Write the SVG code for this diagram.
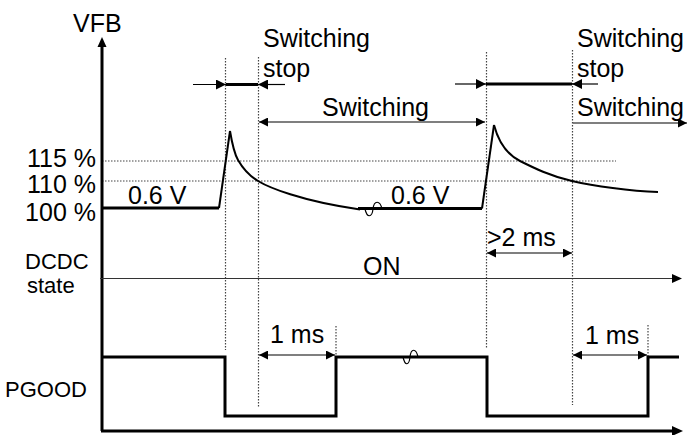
<svg xmlns="http://www.w3.org/2000/svg" width="688" height="435" viewBox="0 0 688 435">
<style>
  text { font-family: "Liberation Sans", Arial, sans-serif; font-size: 25px; fill: #000; }
  .sm { font-size: 22px; }
  .dot { stroke: #444; stroke-width: 1.2; stroke-dasharray: 1.5 1.5; fill: none; }
  .axis { stroke: #000; stroke-width: 3; fill: none; }
  .sig { stroke: #000; stroke-width: 3; fill: none; stroke-linejoin: miter; }
  .curve { stroke: #000; stroke-width: 2; fill: none; }
  .thin { stroke: #000; stroke-width: 1.2; fill: none; }
  .gray { stroke: #333; stroke-width: 1; fill: none; }
  .thick { stroke: #000; stroke-width: 3; fill: none; }
</style>
<defs>
  <marker id="arr" viewBox="0 0 10 10" refX="10" refY="5" markerWidth="11" markerHeight="9" orient="auto-start-reverse" markerUnits="userSpaceOnUse">
    <path d="M0,0 L10,5 L0,10 Z" fill="#000"/>
  </marker>
  <marker id="arrBig" viewBox="0 0 10 10" refX="10" refY="5" markerWidth="11" markerHeight="10" orient="auto-start-reverse" markerUnits="userSpaceOnUse">
    <path d="M0,0 L10,5 L0,10 Z" fill="#000"/>
  </marker>
</defs>
<rect width="688" height="435" fill="#fff"/>

<g id="guides">
  <line class="dot" x1="102" y1="161" x2="616" y2="161"/>
  <line class="dot" x1="102" y1="181" x2="616" y2="181"/>
  <line class="dot" x1="225.5" y1="58" x2="225.5" y2="350"/>
  <line class="dot" x1="258.5" y1="57" x2="258.5" y2="408"/>
  <line class="dot" x1="486.5" y1="52" x2="486.5" y2="348"/>
  <line class="dot" x1="572.5" y1="50" x2="572.5" y2="405"/>
  <line class="dot" x1="336" y1="326" x2="336" y2="357"/>
  <line class="dot" x1="648" y1="325" x2="648" y2="357"/>
</g>

<g id="axes">
  <line class="axis" x1="102" y1="431" x2="102" y2="46"/>
  <path d="M97.5,47 L102,37 L106.5,47 Z" fill="#000"/>
  <line class="axis" x1="101" y1="431" x2="673" y2="431"/>
  <path d="M672,426 L683,431 L672,436 Z" fill="#000"/>
</g>

<g id="vfb-signal">
  <polyline class="sig" points="102,208 219,208"/>
  <line class="curve" x1="219" y1="208" x2="230" y2="131" stroke-width="2.5"/>
  <path class="curve" d="M230,131 C232,143 234,153 238,160 S248,175 258,181 S300,201 360,209.5"/>
  <line class="sig" x1="358" y1="208.5" x2="482" y2="208.5"/>
  <path class="thin" stroke-width="1.6" d="M365,209 C367,218 372,218 373,209 C374,200 380,200 382,209"/>
  <line class="curve" x1="482" y1="208.5" x2="494" y2="125" stroke-width="2.5"/>
  <path class="curve" d="M494,125 C498,140 506,154 520,161 S550,176 572,181 S630,191 658,192"/>
</g>

<g id="dcdc-state">
  <line class="gray" x1="100" y1="278.5" x2="673" y2="278.5"/>
  <path d="M672,274 L682,278.5 L672,283 Z" fill="#000"/>
</g>

<g id="pgood-signal">
  <polyline class="sig" points="102,357 225,357 225,416 336,416 336,357 487,357 487,416 648,416 648,357 679,357"/>
  <path class="thin" stroke-width="1.6" d="M403,357 C405,366 409,366 410,357 C411,348 416,348 418,357"/>
</g>

<g id="connectors">
  <line class="thin" x1="193" y1="84.5" x2="226" y2="84.5" marker-end="url(#arrBig)"/>
  <line class="thick" x1="226" y1="84.5" x2="258" y2="84.5"/>
  <line class="thin" x1="285" y1="84.5" x2="258" y2="84.5" marker-end="url(#arrBig)"/>

  <line class="thin" x1="455" y1="84" x2="486" y2="84" marker-end="url(#arrBig)"/>
  <line class="thick" x1="486" y1="84" x2="572" y2="84"/>
  <line class="thin" x1="598" y1="84" x2="572" y2="84" marker-end="url(#arrBig)"/>

  <line class="thin" x1="259" y1="122" x2="485" y2="122" marker-start="url(#arr)" marker-end="url(#arr)"/>
  <line class="thin" x1="573" y1="123" x2="687" y2="123" marker-end="url(#arr)"/>

  <line class="thin" x1="487" y1="253" x2="572" y2="253" marker-start="url(#arr)" marker-end="url(#arr)"/>

  <line class="thin" x1="259" y1="355" x2="335" y2="355" marker-start="url(#arr)" marker-end="url(#arr)"/>
  <line class="thin" x1="573" y1="355" x2="647" y2="355" marker-start="url(#arr)" marker-end="url(#arr)"/>
</g>

<g id="labels">
  <text x="73" y="32">VFB</text>
  <text x="263" y="47">Switching</text>
  <text x="263" y="77">stop</text>
  <text x="577" y="47">Switching</text>
  <text x="577" y="77">stop</text>
  <text x="322" y="116">Switching</text>
  <text x="577" y="116">Switching</text>
  <text x="96" y="167" text-anchor="end">115 %</text>
  <text x="96" y="193" text-anchor="end">110 %</text>
  <text x="96" y="221" text-anchor="end">100 %</text>
  <text x="128" y="204">0.6 V</text>
  <text x="391" y="204">0.6 V</text>
  <text class="sm" x="25" y="269">DCDC</text>
  <text class="sm" x="27" y="293">state</text>
  <text x="363" y="275">ON</text>
  <text x="487" y="246">&gt;2 ms</text>
  <text x="270" y="343">1 ms</text>
  <text x="585" y="344">1 ms</text>
  <text class="sm" x="5" y="397">PGOOD</text>
</g>
</svg>
